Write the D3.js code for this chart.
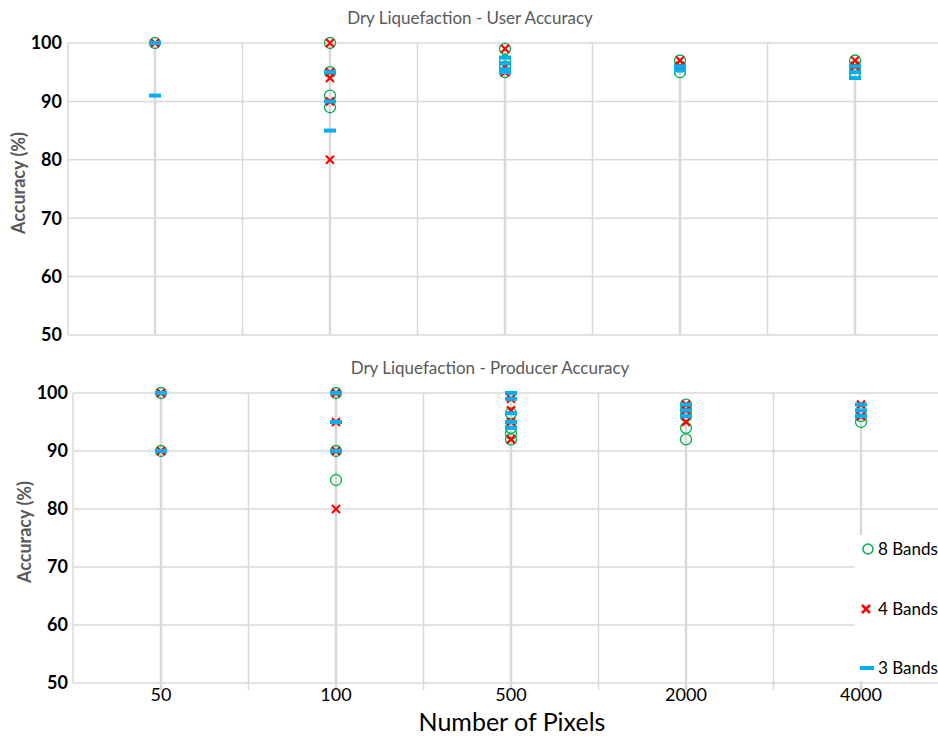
<!DOCTYPE html>
<html><head><meta charset="utf-8">
<script src="https://cdn.jsdelivr.net/npm/d3@7"></script>
<style>body{margin:0;background:#fff;}svg{display:block;font-family:Lato,"Open Sans",sans-serif;}</style>
</head><body>
<svg id="c" width="938" height="740"></svg>
<script>
const categories = ["50","100","500","2000","4000"];
const yTicks = [50,60,70,80,90,100];
const seriesNames = ["8 Bands","4 Bands","3 Bands"];
// User accuracy (top panel)
const user8 = [[100],[100,95,91,89],[99,97,96,95],[97,96,95],[97,96,95]];
const user4 = [[100],[100,95,94,90,80],[99,96,95],[97,96],[97,96]];
const user3 = [[100,91],[95,90,85],[97.5,96.5,95.5,95],[96,95.3],[96,95,94]];
// Producer accuracy (bottom panel)
const prod8 = [[100,90],[100,90,85],[96.5,94,93,92],[98,97,96,94,92],[96,95]];
const prod4 = [[100,90],[100,95,90,80],[99,97,95,92],[98,97,95],[98,96]];
const prod3 = [[100,90],[100,95,90],[100,99,96.5,95,94],[98,97,96],[98,97,96]];

const svg = d3.select("#c");
const grid = "#d9d9d9";
const green = "#00b050", red = "#ff0000", blue = "#00b0f0";

function panel(cfg){
  const g = svg.append("g");
  const x = d3.scaleBand().domain(categories).range([cfg.x0, cfg.x0 + 875]);
  const y = d3.scaleLinear().domain([50,100]).range([cfg.bottom, cfg.top]);
  const cx = c => x(c) + x.bandwidth()/2;
  g.selectAll(".hg").data(yTicks).join("line")
    .attr("x1", cfg.axisX).attr("x2", 938)
    .attr("y1", d => y(d)).attr("y2", d => y(d))
    .attr("stroke", grid).attr("stroke-width", 1.5);
  g.append("line").attr("x1", cfg.axisX).attr("x2", cfg.axisX)
    .attr("y1", y(100)).attr("y2", cfg.bottom).attr("stroke", grid).attr("stroke-width", 1.5);
  g.selectAll(".vb").data(categories.slice(1)).join("line")
    .attr("x1", d => x(d)).attr("x2", d => x(d))
    .attr("y1", y(100)).attr("y2", cfg.bottom + cfg.tickExt)
    .attr("stroke", grid).attr("stroke-width", 1.5);
  const all = categories.map((c,i) => d3.max([...cfg.s8[i], ...cfg.s4[i], ...cfg.s3[i]]));
  g.selectAll(".dl").data(categories).join("line")
    .attr("x1", d => cx(d)).attr("x2", d => cx(d))
    .attr("y1", (d,i) => y(all[i])).attr("y2", cfg.bottom + cfg.tickExt)
    .attr("stroke", grid).attr("stroke-width", 2.5);
  g.selectAll(".yl").data(yTicks).join("text")
    .attr("x", cfg.labelX).attr("y", d => y(d)).attr("dy", "0.35em")
    .attr("text-anchor", "end").attr("font-weight", "bold").attr("font-size", 18)
    .attr("fill", "#000").text(d => d);
  g.append("text").attr("transform", `translate(${cfg.titleYx},${(y(100)+cfg.bottom)/2 - 6}) rotate(-90)`)
    .attr("text-anchor", "middle").attr("font-size", 18).attr("font-weight", "bold")
    .attr("fill", "#595959").text("Accuracy (%)");
  g.append("text").attr("x", cfg.titleX).attr("y", cfg.titleY).attr("text-anchor", "middle")
    .attr("font-size", 17).attr("fill", "#595959").text(cfg.title);
  const flat = arr => arr.flatMap((vals,i) => vals.map(v => ({c: categories[i], v})));
  g.selectAll(".p8").data(flat(cfg.s8)).join("circle")
    .attr("cx", d => cx(d.c)).attr("cy", d => y(d.v)).attr("r", 5.5)
    .attr("fill", "none").attr("stroke", green).attr("stroke-width", 1.3);
  const s = 4;
  g.selectAll(".p4").data(flat(cfg.s4)).join("path")
    .attr("d", d => { const px = cx(d.c), py = y(d.v);
      return `M${px-s},${py-s}L${px+s},${py+s}M${px-s},${py+s}L${px+s},${py-s}`; })
    .attr("stroke", red).attr("stroke-width", 2.2).attr("fill", "none");
  g.selectAll(".p3").data(flat(cfg.s3)).join("rect")
    .attr("x", d => cx(d.c) - 6).attr("y", d => y(d.v) - 2).attr("width", 12).attr("height", 4)
    .attr("fill", blue);
  return {g, x, y, cx};
}

panel({x0: 67.5, axisX: 68, top: 43, bottom: 335, tickExt: 0, labelX: 62, titleYx: 25,
  title: "Dry Liquefaction - User Accuracy", titleX: 470, titleY: 24,
  s8: user8, s4: user4, s3: user3});

const bot = panel({x0: 73.5, axisX: 73, top: 393, bottom: 683, tickExt: 7, labelX: 68, titleYx: 31,
  title: "Dry Liquefaction - Producer Accuracy", titleX: 490, titleY: 374,
  s8: prod8, s4: prod4, s3: prod3});

svg.selectAll(".xl").data(categories).join("text")
  .attr("x", d => bot.cx(d)).attr("y", 695).attr("dy", "0.35em")
  .attr("text-anchor", "middle").attr("font-size", 18).attr("fill", "#000").text(d => d);
svg.append("text").attr("x", 512).attr("y", 731).attr("text-anchor", "middle")
  .attr("font-size", 25).attr("fill", "#000").text("Number of Pixels");

const lg = svg.append("g");
lg.append("rect").attr("x", 855).attr("y", 535).attr("width", 90).attr("height", 146).attr("fill", "#fff");
const ly = [549, 609, 668];
lg.append("circle").attr("cx", 868).attr("cy", ly[0]).attr("r", 5).attr("fill", "none").attr("stroke", green).attr("stroke-width", 1.5);
lg.append("path").attr("d", `M${862},${ly[1]-4}L${870},${ly[1]+4}M${862},${ly[1]+4}L${870},${ly[1]-4}`)
  .attr("stroke", red).attr("stroke-width", 2.5);
lg.append("rect").attr("x", 860).attr("y", ly[2]-2).attr("width", 14).attr("height", 4).attr("fill", blue);
lg.selectAll(".lt").data(seriesNames).join("text")
  .attr("x", 878).attr("y", (d,i) => ly[i]).attr("dy", "0.35em")
  .attr("font-size", 17).attr("fill", "#000").text(d => d);
</script>
</body></html>
